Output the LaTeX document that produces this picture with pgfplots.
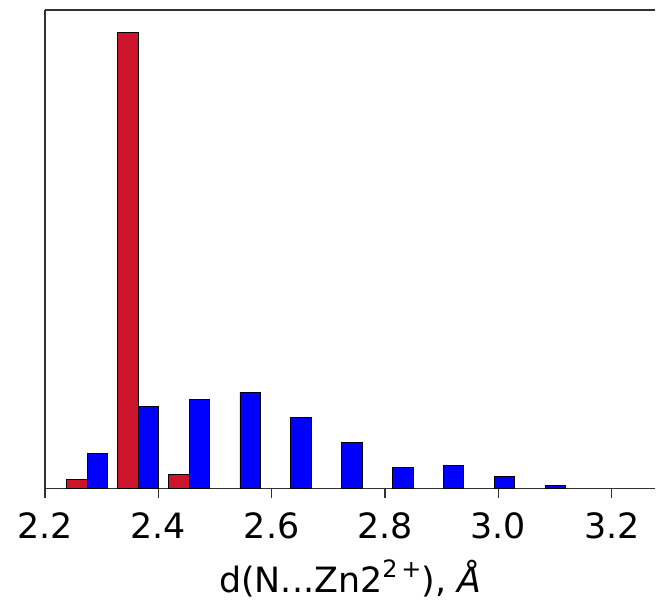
\documentclass[border=0pt]{standalone}
\usepackage{pgfplots}
\pgfplotsset{compat=1.18}
\usepackage{fontspec}
\setmainfont{DejaVu Sans}

\definecolor{barred}{RGB}{204,20,44}
\definecolor{barblue}{RGB}{0,0,255}
\definecolor{spine}{RGB}{50,50,50}

% bin width 0.0898, bars are 0.4 of a bin, centres at 0.3 and 0.7 of each bin
\pgfplotstableread{
x      y
2.2566 9.3
2.3464 457
2.4362 14.3
}\reddata
\pgfplotstableread{
x      y
2.2926 34.6
2.3824 82.6
2.4722 89.3
2.5620 96.0
2.6518 71.6
2.7416 46.0
2.8314 21.0
2.9212 22.6
3.0110 11.6
3.1008 2.6
}\bluedata

\begin{document}
\begin{tikzpicture}
\begin{axis}[
  name=ax,
  scale only axis,
  width=611bp, height=479bp,
  xmin=2.2, xmax=3.2767,
  ymin=0, ymax=479.85,
  axis y line*=left,
  axis x line*=box,
  ytick=\empty,
  xtick={2.2,2.4,2.6,2.8,3.0,3.2},
  xticklabels={2.2,2.4,2.6,2.8,3.0,3.2},
  xtick pos=bottom,
  tick align=outside,
  major tick length=10bp,
  tick style={spine, line width=1.4bp},
  axis line style={spine, line width=1.5bp},
  /pgf/number format/assume math mode=true,
  ticklabel style={font=\fontsize{35}{42}\selectfont},
  xticklabel style={yshift=-11bp},
  xlabel={d(N...Zn2\raisebox{0.42em}{\fontsize{24}{28}\selectfont 2\,+}), \textit{Å}},
  xlabel style={font=\fontsize{35}{42}\selectfont, yshift=-14bp},
  ybar,
  bar width=0.0359,
  bar shift=0pt,
]
\addplot[fill=barred, draw=black, line width=0.9bp] table[x=x, y=y] {\reddata};
\addplot[fill=barblue, draw=black, line width=0.9bp] table[x=x, y=y] {\bluedata};
\end{axis}
\path ([xshift=-45bp, yshift=-110bp]ax.south west) rectangle ([yshift=10bp]ax.north east);
\end{tikzpicture}
\end{document}
